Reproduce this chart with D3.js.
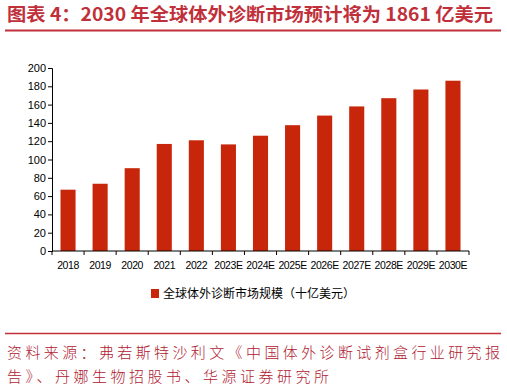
<!DOCTYPE html>
<html>
<head>
<meta charset="utf-8">
<script src="https://cdn.jsdelivr.net/npm/d3@7"></script>
<style>
  body { margin: 0; background: #fff; }
  svg { display: block; }
</style>
</head>
<body>
<div id="chart"></div>
<script>
// Data
const years = ['2018', '2019', '2020', '2021', '2022', '2023E', '2024E',
               '2025E', '2026E', '2027E', '2028E', '2029E', '2030E'];
const marketSize = [67, 73.5, 90.5, 117, 121, 116.5, 126, 137.5, 148, 158, 167, 176.5, 186.1];
const yTicks = [0, 20, 40, 60, 80, 100, 120, 140, 160, 180, 200];
const seriesName = '全球体外诊断市场规模（十亿美元）';
const titleText = '图表 4：2030 年全球体外诊断市场预计将为 1861 亿美元';
const sourceLines = [
    '资料来源：弗若斯特沙利文《中国体外诊断试剂盒行业研究报',
    '告》、丹娜生物招股书、华源证券研究所'
];

const W = 507, H = 389;
const BAR_COLOR = '#c8260a';
const RED_TEXT = '#c0303a';
const cjk = '"Noto Sans CJK SC", "Noto Sans", sans-serif';
const latin = '"Liberation Sans", Arial, sans-serif';

const svg = d3.select('#chart').append('svg')
    .attr('width', W)
    .attr('height', H);

// Title and rule under it
svg.append('text')
    .attr('x', 7)
    .attr('y', 21)
    .attr('textLength', 486)
    .attr('lengthAdjust', 'spacingAndGlyphs')
    .style('font-family', cjk)
    .style('font-size', '18px')
    .style('font-weight', 'bold')
    .style('fill', RED_TEXT)
    .text(titleText);

svg.append('line')
    .attr('x1', 5).attr('x2', 501)
    .attr('y1', 30.5).attr('y2', 30.5)
    .style('stroke', '#c0303a')
    .style('stroke-width', 2);

// Plot area
const margin = { left: 52, right: 38, top: 68, bottom: 138 };
const x = d3.scaleBand()
    .domain(years)
    .range([margin.left, W - margin.right])
    .paddingInner(0.53)
    .paddingOuter(0.265);

const y = d3.scaleLinear()
    .domain([0, 200])
    .range([H - margin.bottom, margin.top]);

svg.append('g')
    .selectAll('rect')
    .data(marketSize)
    .join('rect')
    .attr('x', (d, i) => x(years[i]))
    .attr('y', d => y(d))
    .attr('width', x.bandwidth())
    .attr('height', d => y(0) - y(d))
    .style('fill', BAR_COLOR);

// Y axis
const yAxis = svg.append('g')
    .attr('transform', `translate(${margin.left},0)`)
    .call(d3.axisLeft(y).tickValues(yTicks).tickSize(4).tickPadding(2));
yAxis.selectAll('text')
    .style('font-family', latin)
    .style('font-size', '11px')
    .style('fill', '#000');
yAxis.selectAll('line, path').style('stroke', '#000');

// X axis with ticks between categories
const xAxis = svg.append('g')
    .attr('transform', `translate(0,${y(0)})`);
xAxis.append('line')
    .attr('x1', margin.left).attr('x2', W - margin.right)
    .style('stroke', '#000');
const step = x.step();
xAxis.selectAll('line.tick')
    .data(d3.range(years.length + 1))
    .join('line')
    .attr('class', 'tick')
    .attr('x1', i => margin.left + i * step)
    .attr('x2', i => margin.left + i * step)
    .attr('y1', 0).attr('y2', 4)
    .style('stroke', '#000');
xAxis.selectAll('text')
    .data(years)
    .join('text')
    .attr('x', d => x(d) + x.bandwidth() / 2)
    .attr('y', 18)
    .attr('text-anchor', 'middle')
    .style('font-family', latin)
    .style('font-size', '10.5px')
    .style('letter-spacing', '-0.4px')
    .style('fill', '#000')
    .text(d => d);

// Legend
const legend = svg.append('g').attr('transform', 'translate(151,289)');
legend.append('rect')
    .attr('width', 8).attr('height', 9)
    .style('fill', BAR_COLOR);
legend.append('text')
    .attr('x', 12)
    .attr('y', 9)
    .style('font-family', cjk)
    .style('font-size', '12px')
    .style('fill', '#000')
    .text(seriesName);

// Source note and rule above it
svg.append('line')
    .attr('x1', 5).attr('x2', 501)
    .attr('y1', 333.5).attr('y2', 333.5)
    .style('stroke', '#c0303a')
    .style('stroke-width', 1.5);

svg.selectAll('text.source')
    .data(sourceLines)
    .join('text')
    .attr('class', 'source')
    .attr('x', 7)
    .attr('y', (d, i) => 358 + i * 24)
    .attr('textLength', (d, i) => i === 0 ? 493 : 322)
    .attr('lengthAdjust', 'spacing')
    .style('font-family', cjk)
    .style('font-size', '15px')
    .style('font-weight', 300)
    .style('fill', '#b02030')
    .text(d => d);
</script>
</body>
</html>
